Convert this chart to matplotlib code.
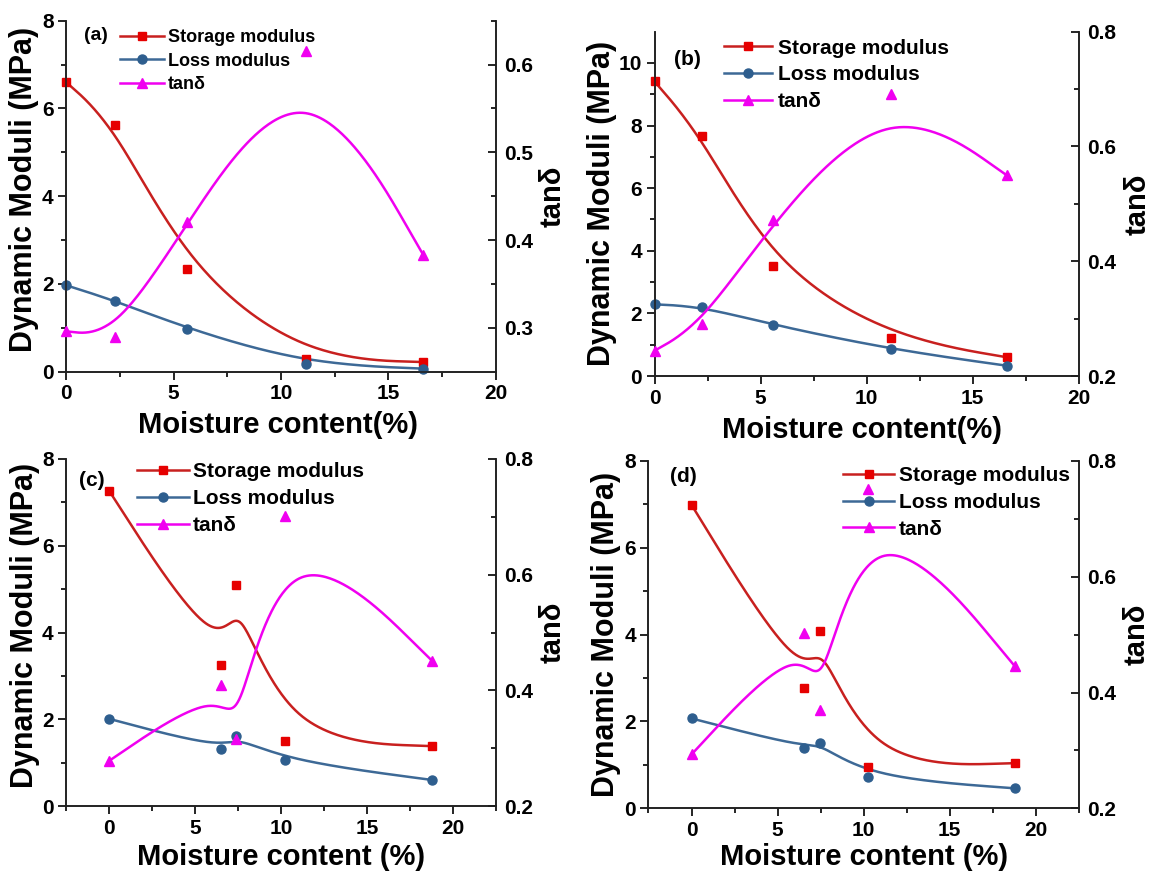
import numpy as np
import matplotlib
matplotlib.use("Agg")
import matplotlib.pyplot as plt
from matplotlib.lines import Line2D

plt.rcParams['font.family'] = ['Liberation Sans', 'DejaVu Sans']
plt.rcParams['font.weight'] = 'bold'
plt.rcParams['axes.labelweight'] = 'bold'

# ---------------- data ----------------
moist_a = [0.0, 2.27, 5.65, 11.15, 16.63]
storage_a = [6.6, 5.62, 2.35, 0.3, 0.22]
loss_a = [1.97, 1.62, 0.98, 0.18, 0.07]
tan_a = [0.296, 0.29, 0.421, 0.616, 0.383]

moist_b = [0.0, 2.22, 5.59, 11.14, 16.6]
storage_b = [9.41, 7.68, 3.5, 1.23, 0.6]
loss_b = [2.29, 2.22, 1.63, 0.85, 0.33]
tan_b = [0.244, 0.29, 0.471, 0.692, 0.550]

moist_c = [0.0, 6.54, 7.41, 10.24, 18.8]
storage_c = [7.27, 3.24, 5.10, 1.50, 1.38]
loss_c = [2.01, 1.32, 1.61, 1.05, 0.60]
tan_c = [0.278, 0.41, 0.316, 0.701, 0.451]

moist_d = [0.0, 6.54, 7.46, 10.26, 18.8]
storage_d = [6.99, 2.76, 4.09, 0.94, 1.04]
loss_d = [2.07, 1.40, 1.51, 0.71, 0.46]
tan_d = [0.293, 0.503, 0.369, 0.751, 0.445]

panel_labels = ['(a)', '(b)', '(c)', '(d)']
series_names = ['Storage modulus', 'Loss modulus', 'tanδ']
xlabels = ['Moisture content(%)', 'Moisture content(%)',
           'Moisture content (%)', 'Moisture content (%)']
ylabel = 'Dynamic Moduli (MPa)'
ylabel2 = 'tanδ'

# ---------------- style ----------------
C_STO_L, C_STO_M = '#c8201f', '#e60000'
C_LOS_L, C_LOS_M = '#3d6996', '#2e5e8e'
C_TAN = '#f000f0'


def bspline(xs, ys, n_seg=80):
    """Uniform cubic B-spline with the data points as control points (end points tripled,
    so the curve starts/ends on the first/last point) - Origin-style 'B-Spline' line."""
    P = np.column_stack([xs, ys]).astype(float)
    Q = np.vstack([P[:1], P[:1], P, P[-1:], P[-1:]])
    M = np.array([[-1, 3, -3, 1],
                  [3, -6, 3, 0],
                  [-3, 0, 3, 0],
                  [1, 4, 1, 0]]) / 6.0
    s = np.linspace(0, 1, n_seg)
    T = np.column_stack([s ** 3, s ** 2, s, np.ones_like(s)])
    pts = []
    for i in range(len(Q) - 3):
        pts.append(T @ M @ Q[i:i + 4])
    C = np.vstack(pts)
    return C[:, 0], C[:, 1]


W, H = 1151, 876
fig = plt.figure(figsize=(W / 100, H / 100), dpi=100)

# axes rectangles in pixels: left, right, top, bottom
rects = [(66.1, 495.7, 20.7, 371.7),
         (654.5, 1078.7, 31.7, 376.0),
         (66.1, 495.7, 459.0, 806.0),
         (648.5, 1078.7, 461.0, 808.3)]

cfg = [
    dict(x=moist_a, s=storage_a, l=loss_a, t=tan_a, xlim=(0, 20), ylim=(0, 8), y2=(0.25, 0.65),
         yt=np.arange(0, 9, 2), ymin=np.arange(1, 8, 2), y2t=[0.3, 0.4, 0.5, 0.6], y2m=[0.35, 0.45, 0.55, 0.65],
         leg=(0.1245, 0.976), legfs=13, hl=2.48, htp=0.2, pl=(0.042, 0.959), plfs=14,
         xl=(0.493, -0.152), yl=(-0.098, 0.52), y2l=(1.133, 0.5)),
    dict(x=moist_b, s=storage_b, l=loss_b, t=tan_b, xlim=(0, 20), ylim=(0, 11), y2=(0.2, 0.8),
         yt=np.arange(0, 11, 2), ymin=np.arange(1, 11, 2), y2t=[0.2, 0.4, 0.6, 0.8], y2m=[0.3, 0.5, 0.7],
         leg=(0.163, 0.98), legfs=15, hl=2.31, htp=0.29, pl=(0.045, 0.918), plfs=15,
         xl=(0.49, -0.157), yl=(-0.124, 0.5), y2l=(1.14, 0.5)),
    dict(x=moist_c, s=storage_c, l=loss_c, t=tan_c, xlim=(-2.5, 22.5), ylim=(0, 8), y2=(0.2, 0.8),
         yt=np.arange(0, 9, 2), ymin=np.arange(1, 8, 2), y2t=[0.2, 0.4, 0.6, 0.8], y2m=[0.3, 0.5, 0.7],
         leg=(0.166, 0.99), legfs=15, hl=2.49, htp=0.17, pl=(0.029, 0.939), plfs=15,
         xl=(0.5, -0.146), yl=(-0.096, 0.52), y2l=(1.133, 0.5)),
    dict(x=moist_d, s=storage_d, l=loss_d, t=tan_d, xlim=(-2.5, 22.5), ylim=(0, 8), y2=(0.2, 0.8),
         yt=np.arange(0, 9, 2), ymin=np.arange(1, 8, 2), y2t=[0.2, 0.4, 0.6, 0.8], y2m=[0.3, 0.5, 0.7],
         leg=(0.453, 0.985), legfs=15, hl=2.44, htp=0.23, pl=(0.05, 0.954), plfs=15,
         xl=(0.5, -0.14), yl=(-0.099, 0.5), y2l=(1.135, 0.5)),
]

for idx, (r, c) in enumerate(zip(rects, cfg)):
    L, R, T, B = r
    ax = fig.add_axes([L / W, (H - B) / H, (R - L) / W, (B - T) / H])
    ax2 = ax.twinx()

    # curves
    bx, by = bspline(c['x'], c['s'])
    ax.plot(bx, by, color=C_STO_L, lw=1.8, zorder=3)
    bx, by = bspline(c['x'], c['l'])
    ax.plot(bx, by, color=C_LOS_L, lw=1.8, zorder=3)
    ax.plot(c['x'], c['s'], ls='none', marker='s', ms=6, color=C_STO_M, zorder=4, clip_on=False)
    ax.plot(c['x'], c['l'], ls='none', marker='o', ms=6.5, color=C_LOS_M, zorder=4, clip_on=False)

    bx, by = bspline(c['x'], c['t'])
    ax2.plot(bx, by, color=C_TAN, lw=1.8, zorder=3)
    ax2.plot(c['x'], c['t'], ls='none', marker='^', ms=7, color=C_TAN, zorder=4, clip_on=False)

    ax.set_xlim(*c['xlim'])
    ax.set_ylim(*c['ylim'])
    ax2.set_ylim(*c['y2'])

    ax.set_xticks([0, 5, 10, 15, 20])
    ax.set_xticks([-2.5, 2.5, 7.5, 12.5, 17.5, 22.5] if c['xlim'][0] < 0 else [2.5, 7.5, 12.5, 17.5], minor=True)
    ax.set_yticks(c['yt'])
    ax.set_yticks(c['ymin'], minor=True)
    ax2.set_yticks(c['y2t'])
    ax2.set_yticks(c['y2m'], minor=True)
    ax2.set_yticklabels([f'{v:.1f}' for v in c['y2t']])

    for a in (ax, ax2):
        a.spines['top'].set_visible(False)
        for s in a.spines.values():
            s.set_linewidth(1.2)
            s.set_color('#222222')
    ax.tick_params(axis='both', which='major', direction='out', length=6, width=1.2, labelsize=15, pad=3)
    ax.tick_params(axis='both', which='minor', direction='out', length=3.5, width=1.2)
    ax2.tick_params(axis='y', which='major', direction='in', length=6, width=1.2, labelsize=15, pad=6)
    ax2.tick_params(axis='y', which='minor', direction='in', length=3.5, width=1.2)
    for lab in ax.get_xticklabels() + ax.get_yticklabels() + ax2.get_yticklabels():
        lab.set_fontweight('bold')

    ax.set_xlabel(xlabels[idx], fontsize=21, fontweight='bold', va='center')
    ax.xaxis.set_label_coords(*c['xl'])
    ax.set_ylabel(ylabel, fontsize=22, fontweight='bold', va='center')
    ax.yaxis.set_label_coords(*c['yl'])
    ax2.set_ylabel(ylabel2, fontsize=21, fontweight='bold', va='center', rotation=90)
    ax2.yaxis.set_label_coords(*c['y2l'])

    handles = [
        Line2D([], [], color=C_STO_L, lw=1.8, marker='s', ms=6, markerfacecolor=C_STO_M, markeredgecolor=C_STO_M),
        Line2D([], [], color=C_LOS_L, lw=1.8, marker='o', ms=6.5, markerfacecolor=C_LOS_M, markeredgecolor=C_LOS_M),
        Line2D([], [], color=C_TAN, lw=1.8, marker='^', ms=7, markerfacecolor=C_TAN, markeredgecolor=C_TAN),
    ]
    ax2.legend(handles, series_names, loc='upper left', bbox_to_anchor=c['leg'],
               bbox_transform=ax2.transAxes, frameon=False, borderpad=0, borderaxespad=0,
               handlelength=c['hl'], handletextpad=c['htp'], labelspacing=0.37,
               prop={'size': c['legfs'], 'weight': 'bold'}, numpoints=1)
    ax2.text(c['pl'][0], c['pl'][1], panel_labels[idx], transform=ax2.transAxes,
             fontsize=c['plfs'], fontweight='bold', ha='left', va='center')

fig.savefig('out.png', dpi=100)
